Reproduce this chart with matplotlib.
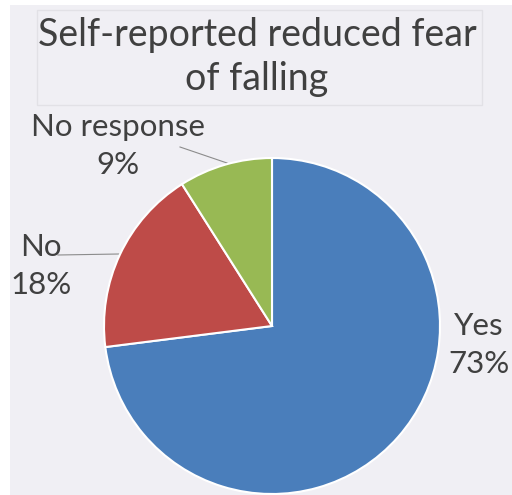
import matplotlib
matplotlib.use("Agg")
import matplotlib.pyplot as plt
from matplotlib.patches import Rectangle

categories = ["Yes", "No", "No response"]
values = [73, 18, 9]
colors = ["#4A7EBB", "#BE4B48", "#98B954"]
title = "Self-reported reduced fear\nof falling"

plt.rcParams['font.family'] = ['Lato', 'DejaVu Sans']

W, H = 512, 495
fig = plt.figure(figsize=(W/100, H/100), dpi=100, facecolor="white")
ax = fig.add_axes([0, 0, 1, 1])

def Y(y):
    return H - y

cx, cy, r = 272, Y(326), 168
wedges, _ = ax.pie(values, colors=colors, startangle=90, counterclock=False,
                   center=(cx, cy), radius=r, frame=True,
                   wedgeprops=dict(edgecolor="white", linewidth=1.5, zorder=3))
ax.set_xlim(0, W)
ax.set_ylim(0, H)
ax.set_aspect('equal')
ax.axis('off')

# background panel
ax.add_patch(Rectangle((10, 0), W - 10, H - 5, facecolor="#F0EFF4", edgecolor="none", zorder=0))
# title box
ax.add_patch(Rectangle((37, Y(105)), 445, 95, facecolor="none", edgecolor="#E2E1E6", lw=1, zorder=1))
ax.text(257, Y(57), title, ha="center", va="center", fontsize=27, color="#404040",
        linespacing=1.3, zorder=2)

lab_kw = dict(ha="center", va="center", fontsize=22.5, color="#404040", linespacing=1.45)
ax.text(118, Y(146), f"{categories[2]}\n{values[2]}%", **lab_kw)
ax.text(41, Y(266), f"{categories[1]}\n{values[1]}%", **lab_kw)
ax.text(479, Y(345), f"{categories[0]}\n{values[0]}%", **lab_kw)

# leader lines
ax.plot([180, 227], [Y(147), Y(163)], color="#8C8C8C", lw=0.8, zorder=2)
ax.plot([58, 119], [Y(255), Y(254)], color="#8C8C8C", lw=0.8, zorder=2)

fig.savefig("out.png", dpi=100, facecolor=fig.get_facecolor())
